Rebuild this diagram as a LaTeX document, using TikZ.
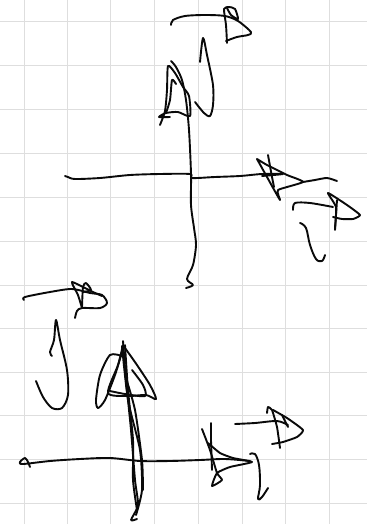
\documentclass[tikz,border=0pt]{standalone}
\usepackage{xcolor}
\definecolor{gridgrey}{HTML}{DEDEDE}
\definecolor{inkblack}{HTML}{0A0A0A}
\tikzset{
    gridline/.style={draw=gridgrey, line width=1pt},
    inkstroke/.style={draw=inkblack, line width=1.9pt, line cap=round, line join=round}
}

\begin{document}
\begin{tikzpicture}[x=1pt, y=-1pt]
    \useasboundingbox (0,0) rectangle (367,524);
    \fill[white] (0,0) rectangle (367,524);

    % grid
    \foreach \gx in {24,67,110,154,198,242,285,329}
        \draw[gridline] (\gx,0) -- (\gx,524);
    \foreach \gy in {22,66,110,153,197,241,285,328,372,415,459,503}
        \draw[gridline] (0,\gy) -- (367,\gy);

    % upper axes
    \draw[inkstroke] plot[smooth, tension=0.5] coordinates {(65,176) (68,177) (75,179) (100,178) (130,175) (160,174) (190,174) (192,178) (215,177) (240,176) (262,174) (283,174) (262,176)};
    \draw[inkstroke] plot[smooth, tension=0.5] coordinates {(171,61) (176,67) (182,80) (186,100) (189,130) (191,174) (191,205) (194,228) (196,245) (193,265) (187,279) (193,285) (186,288)};

    % upper vertical arrowhead
    \draw[inkstroke] plot[smooth, tension=0.4] coordinates {(160,125) (165,111) (167,90) (168,66) (175,73) (183,87) (189,96) (190,116) (178,112) (166,113) (159,117) (170,117)};
    \draw[inkstroke] plot[smooth, tension=0.4] coordinates {(166,113) (170,100) (172,80) (176,84)};

    % upper horizontal arrowhead
    \draw[inkstroke] plot[smooth, tension=0.3] coordinates {(257,159) (267,177) (280,200) (278,190) (303,182) (287,175) (267,165) (257,159)};
    \draw[inkstroke] plot[smooth, tension=0.3] coordinates {(268,155) (272,177) (274,187)};
    \draw[inkstroke] plot[smooth, tension=0.4] coordinates {(303,182) (315,180) (327,178) (337,181)};

    % top right vector
    \draw[inkstroke] plot[smooth, tension=0.5] coordinates {(171,25) (173,20) (185,16) (205,15) (225,16) (238,21) (251,32) (248,35) (237,37) (226,41)};
    \draw[inkstroke] plot[smooth, tension=0.4] coordinates {(227,43) (226,25) (224,9) (229,7) (235,9) (238,19) (231,15) (227,8)};

    % upper curl
    \draw[inkstroke] plot[smooth, tension=0.5] coordinates {(200,62) (203,38) (207,55) (213,85) (213,105) (210,116) (204,113) (195,102)};

    % right vector
    \draw[inkstroke] plot[smooth, tension=0.5] coordinates {(293,210) (295,203) (310,203) (333,207)};
    \draw[inkstroke] plot[smooth, tension=0.3] coordinates {(335,230) (336,207) (328,193) (347,205) (360,215) (353,219) (342,219) (333,217)};
    \draw[inkstroke] plot[smooth, tension=0.3] coordinates {(337,200) (336,215) (335,228)};

    % right curl
    \draw[inkstroke] plot[smooth, tension=0.6] coordinates {(300,223) (306,228) (310,245) (316,259) (322,261) (325,255)};

    % lower left vector
    \draw[inkstroke] plot[smooth, tension=0.5] coordinates {(24,300) (25,297) (50,292) (72,289) (90,293) (102,295) (107,303) (100,308) (82,308) (77,311) (75,318)};
    \draw[inkstroke] plot[smooth, tension=0.3] coordinates {(82,308) (78,295) (72,282) (93,292) (102,296)};
    \draw[inkstroke] plot[smooth, tension=0.4] coordinates {(82,307) (83,287) (86,283) (91,290) (83,292)};

    % lower curl
    \draw[inkstroke] plot[smooth, tension=0.5] coordinates {(52,356) (50,352) (54,340) (56,320) (60,340) (67,370) (68,395) (62,408) (52,408) (43,397) (36,381)};

    % lower axes
    \draw[inkstroke] plot[smooth, tension=0.5] coordinates {(30,467) (28,462) (25,458) (20,462) (23,464) (50,461) (80,459) (110,458) (140,461) (170,461) (200,460) (225,459) (250,461)};
    \draw[inkstroke] plot[smooth, tension=0.4] coordinates {(123,341) (126,380) (131,430) (135,480) (138,505) (131,520) (137,519)};
    \draw[inkstroke] plot[smooth, tension=0.4] coordinates {(122,346) (128,400) (140,450) (142,490) (136,515)};
    \draw[inkstroke] plot[smooth, tension=0.4] coordinates {(125,345) (128,390) (133,440) (133,480) (137,510)};
    \draw[inkstroke] plot[smooth, tension=0.4] coordinates {(126,378) (135,410) (142,460) (143,490)};

    % lower vertical arrowhead
    \draw[inkstroke] plot[smooth, tension=0.45] coordinates {(123,345) (118,365) (108,393) (128,396) (146,395) (156,399) (150,385) (137,365) (125,348)};
    \draw[inkstroke] plot[smooth, tension=0.45] coordinates {(122,356) (110,355) (100,375) (96,400) (98,408) (105,400) (115,375) (122,352)};
    \draw[inkstroke] plot[smooth, tension=0.45] coordinates {(110,391) (125,394) (145,396) (143,385) (132,370)};

    % lower horizontal arrowhead
    \draw[inkstroke] plot[smooth, tension=0.3] coordinates {(202,429) (210,450) (217,473) (222,480) (212,486) (217,473) (230,467) (252,462) (233,458) (220,453) (208,443)};
    \draw[inkstroke] plot[smooth, tension=0.3] coordinates {(211,423) (211,440) (212,470)};

    % lower right vector
    \draw[inkstroke] plot[smooth, tension=0.5] coordinates {(235,424) (255,423) (277,421) (288,425)};
    \draw[inkstroke] plot[smooth, tension=0.3] coordinates {(280,448) (277,427) (272,410) (268,407) (267,413)};
    \draw[inkstroke] plot[smooth, tension=0.3] coordinates {(273,410) (287,418) (303,430) (297,437) (283,442) (272,444)};
    \draw[inkstroke] plot[smooth, tension=0.3] coordinates {(282,415) (288,427)};

    % lower curl right
    \draw[inkstroke] plot[smooth, tension=0.6] coordinates {(250,454) (255,454) (259,465) (260,485) (258,499) (262,497) (268,488)};
\end{tikzpicture}
\end{document}
